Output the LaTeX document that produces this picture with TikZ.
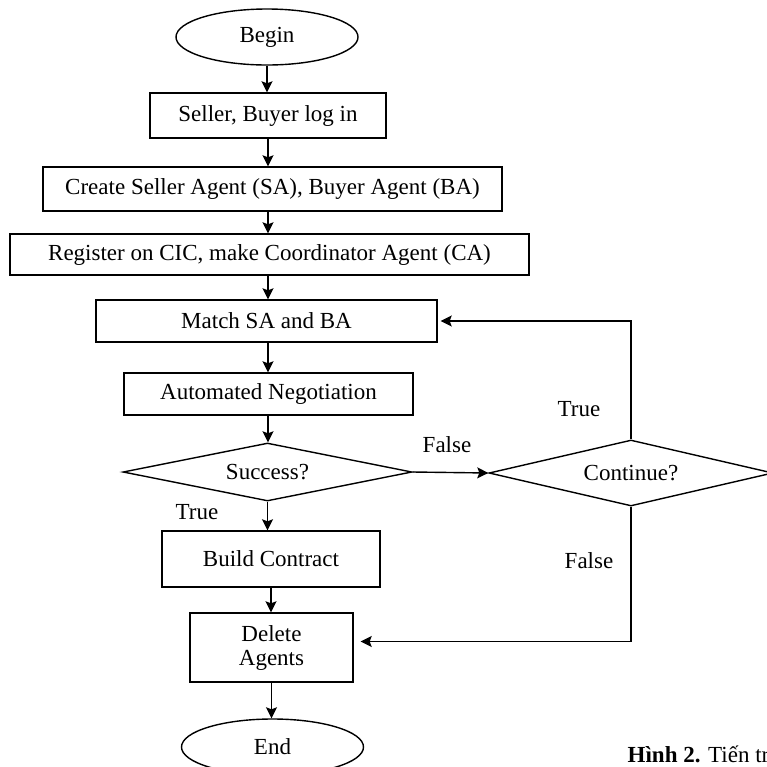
\documentclass[tikz,border=0pt]{standalone}
\usepackage{fontspec}
\setmainfont{Liberation Serif}
\usetikzlibrary{shapes.geometric,arrows.meta}

\begin{document}
\begin{tikzpicture}[x=0.5pt,y=-0.5pt,->,>={Stealth[length=5.5pt,width=5.5pt,inset=1pt]},
line width=0.7pt,font=\fontsize{11.5}{12}\selectfont,
proc node/.style={rectangle,draw,inner sep=0pt,align=center},
test node/.style={diamond,draw,aspect=4.5,inner sep=0pt},
term node/.style={ellipse,draw,inner sep=0pt,minimum width=91pt,minimum height=28pt}]
\useasboundingbox (0,0) rectangle (767,767);

% Main column
  \node[term node] (begin) at (267,37) {Begin};
  \node[proc node,minimum width=118pt,minimum height=22.5pt] (login) at (268,115.5) {Seller, Buyer log in};
  \node[proc node,minimum width=229.5pt,minimum height=22pt] (create) at (272.5,189) {Create Seller Agent (SA), Buyer Agent (BA)};
  \node[proc node,minimum width=259.5pt,minimum height=20.5pt] (register) at (269.5,254.5) {Register on CIC, make Coordinator Agent (CA)};
  \node[proc node,minimum width=170.5pt,minimum height=21pt] (match) at (266.5,321) {Match SA and BA};
  \node[proc node,minimum width=144.5pt,minimum height=21pt] (nego) at (268.5,394) {Automated Negotiation};
  \node[test node,minimum width=144.5pt,minimum height=29pt] (success) at (267.5,472) {Success?};
  \node[proc node,minimum width=109pt,minimum height=28pt] (contract) at (271,559) {Build Contract};
  \node[proc node,minimum width=81.5pt,minimum height=34.5pt] (delete) at (271.5,647.5) {Delete\\Agents};
  \node[term node] (end) at (272.5,747) {End};

  \path
    (begin) edge (begin |- login.north)
    (login) edge (login |- create.north)
    (login |- create.south) edge (login |- register.north)
    (login |- register.south) edge (login |- match.north)
    (login |- match.south) edge (login |- nego.north)
    (login |- nego.south) edge (login |- success.north)
    (success) edge (success |- contract.north)
    (contract) edge (contract |- delete.north)
    (delete) edge (delete |- end.north);

% Right branch
  \node[test node,minimum width=142pt,minimum height=33pt] (cont) at (631,473) {Continue?};

  \draw (success.east) -- (cont.west);
  \draw (cont.north) |- ([xshift=1.5pt]match.east);
  \draw (cont.south) |- ([xshift=3.5pt,yshift=3pt]delete.east);

% Labels
  \node (false1) at (447,445) {False};
  \node (true1) at (579,409) {True};
  \node (true2) at (197,512) {True};
  \node (false2) at (589,561) {False};

  \node[anchor=west,inner sep=0pt] (caption) at (627,754) {\textbf{Hình 2.} Tiến trình};

\end{tikzpicture}
\end{document}
